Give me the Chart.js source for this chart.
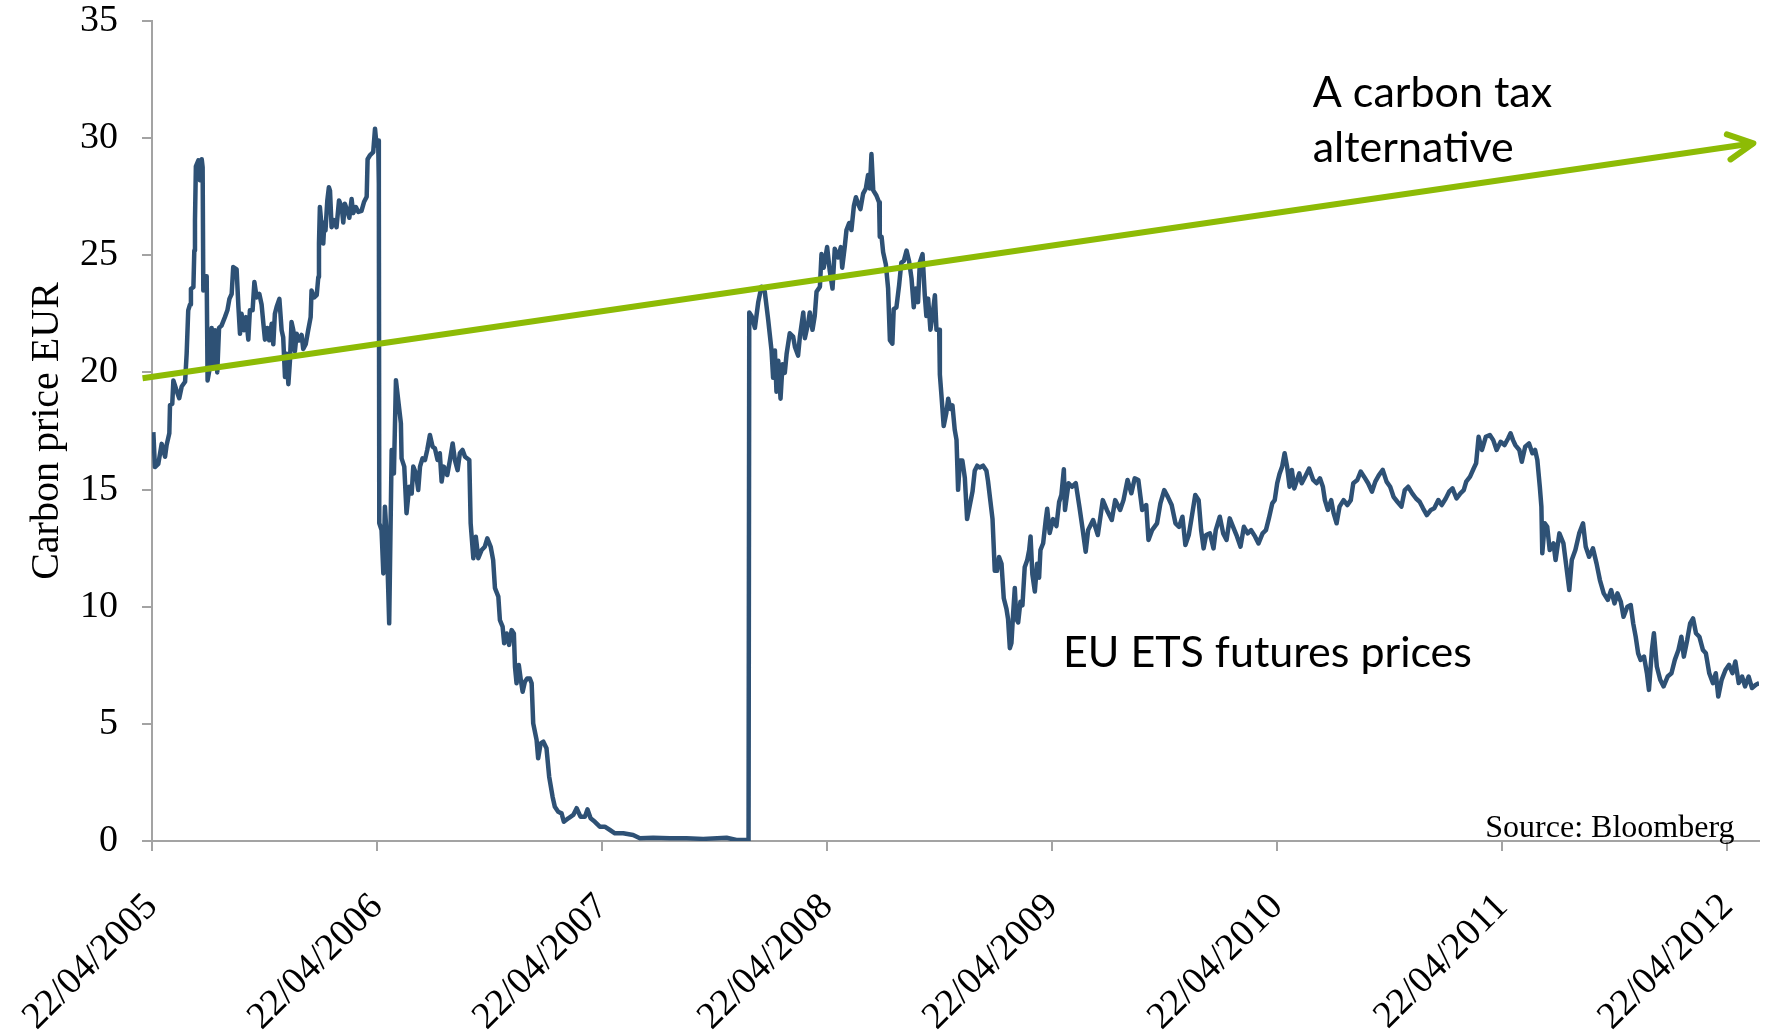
<html>
<head>
<script src="https://cdn.jsdelivr.net/npm/chart.js@4.4.0/dist/chart.umd.min.js"></script>
<style>
  body { margin: 0; background: #ffffff; }
  canvas { display: block; }
</style>
</head>
<body>
<canvas id="carbonChart" width="1769" height="1030"></canvas>

<script>
  // x values are decimal years (22/04 = .304 of the year), y values are EUR
  var tickYears = [2005.304, 2006.304, 2007.304, 2008.304, 2009.304, 2010.304, 2011.304, 2012.304];
  var tickLabels = ['22/04/2005', '22/04/2006', '22/04/2007', '22/04/2008', '22/04/2009', '22/04/2010', '22/04/2011', '22/04/2012'];
  var yTicks = [0, 5, 10, 15, 20, 25, 30, 35];

  // phase 1, up to the April 2006 crash
  var pricesPhase1a = [
    [2005.310, 17.45], [2005.317, 15.96], [2005.332, 16.1], [2005.347, 16.95], [2005.362, 16.4], [2005.369, 16.9],
    [2005.381, 17.4], [2005.384, 18.6], [2005.394, 18.66], [2005.399, 19.66], [2005.414, 19.2], [2005.425, 18.9],
    [2005.436, 19.4], [2005.451, 19.6], [2005.458, 20.8], [2005.465, 22.65], [2005.473, 22.9], [2005.477, 23.57],
    [2005.488, 23.64], [2005.492, 25.2], [2005.495, 26.5], [2005.499, 28.8], [2005.510, 29.05], [2005.517, 28.2],
    [2005.525, 29.1], [2005.529, 28.76], [2005.532, 23.5], [2005.539, 24.1], [2005.547, 24.1], [2005.551, 19.66],
    [2005.559, 20.1], [2005.569, 21.9], [2005.576, 20.2], [2005.584, 21.8], [2005.594, 20.0], [2005.602, 21.9],
    [2005.613, 22.0], [2005.628, 22.36], [2005.639, 22.65], [2005.648, 23.14], [2005.658, 23.35], [2005.665, 24.5],
    [2005.680, 24.4], [2005.688, 22.8], [2005.695, 21.65], [2005.702, 22.5], [2005.713, 21.8], [2005.722, 22.36],
    [2005.732, 21.4], [2005.739, 22.65], [2005.751, 22.65], [2005.759, 23.86], [2005.769, 23.2], [2005.781, 23.35],
    [2005.791, 22.9], [2005.799, 22.08], [2005.806, 21.4], [2005.816, 21.9], [2005.825, 21.37], [2005.836, 22.08],
    [2005.843, 21.2], [2005.850, 22.5], [2005.858, 22.8], [2005.870, 23.14], [2005.880, 21.8], [2005.887, 21.5],
    [2005.895, 19.8], [2005.902, 20.8], [2005.910, 19.5], [2005.917, 20.5], [2005.924, 22.15], [2005.932, 21.8],
    [2005.939, 20.9], [2005.947, 21.65], [2005.958, 21.37], [2005.969, 21.6], [2005.976, 21.0], [2005.987, 21.2],
    [2005.998, 21.8], [2006.009, 22.36], [2006.013, 23.5], [2006.024, 23.2], [2006.036, 23.3], [2006.043, 24.07],
    [2006.046, 25.5], [2006.050, 27.06], [2006.058, 26.2], [2006.065, 25.5], [2006.070, 26.4], [2006.075, 26.06],
    [2006.083, 27.34], [2006.090, 27.9], [2006.095, 27.76], [2006.102, 26.2], [2006.113, 26.5], [2006.124, 26.2],
    [2006.135, 27.34], [2006.147, 27.06], [2006.154, 26.4], [2006.161, 27.2], [2006.172, 26.9], [2006.181, 26.6],
    [2006.191, 27.4], [2006.198, 26.8], [2006.210, 27.06], [2006.221, 26.85], [2006.235, 26.9], [2006.246, 27.27],
    [2006.258, 27.5], [2006.262, 29.1], [2006.272, 29.26], [2006.287, 29.4], [2006.295, 30.4], [2006.302, 29.69],
    [2006.309, 29.9], [2006.312, 28.05]
  ];

  // phase 1 after the crash, sliding to zero
  var pricesPhase1b = [
    [2006.314, 13.56], [2006.324, 13.27], [2006.332, 11.42], [2006.339, 14.27], [2006.347, 12.99], [2006.358, 9.29],
    [2006.369, 16.69], [2006.379, 15.69], [2006.388, 19.67], [2006.398, 18.82], [2006.410, 17.83], [2006.413, 16.33],
    [2006.425, 15.98], [2006.435, 13.99], [2006.447, 15.12], [2006.458, 14.83], [2006.465, 15.98], [2006.477, 15.69],
    [2006.487, 14.98], [2006.495, 15.98], [2006.506, 16.33], [2006.517, 16.26], [2006.527, 16.69], [2006.539, 17.33],
    [2006.551, 16.83], [2006.561, 16.76], [2006.573, 16.26], [2006.583, 16.55], [2006.591, 15.34], [2006.601, 15.98],
    [2006.616, 15.62], [2006.628, 16.26], [2006.640, 16.97], [2006.650, 16.26], [2006.662, 15.83], [2006.672, 16.55],
    [2006.684, 16.69], [2006.695, 16.4], [2006.714, 16.26], [2006.720, 13.56], [2006.732, 12.07], [2006.743, 12.99],
    [2006.754, 12.07], [2006.769, 12.42], [2006.783, 12.56], [2006.794, 12.92], [2006.809, 12.56], [2006.820, 11.99],
    [2006.828, 10.79], [2006.843, 10.43], [2006.850, 9.43], [2006.862, 9.15], [2006.869, 8.44], [2006.880, 8.86],
    [2006.891, 8.37], [2006.902, 9.0], [2006.912, 8.86], [2006.917, 7.44], [2006.924, 6.73], [2006.934, 7.51],
    [2006.943, 6.87], [2006.951, 6.37], [2006.961, 6.8], [2006.971, 6.94], [2006.983, 6.94], [2006.991, 6.73],
    [2006.998, 5.02], [2007.013, 4.31], [2007.020, 3.53], [2007.031, 4.17], [2007.043, 4.24], [2007.057, 3.96],
    [2007.069, 2.74], [2007.084, 1.89], [2007.094, 1.46], [2007.109, 1.25], [2007.124, 1.18], [2007.134, 0.82],
    [2007.154, 0.97], [2007.176, 1.11], [2007.191, 1.4], [2007.208, 1.04], [2007.228, 1.04], [2007.239, 1.35],
    [2007.253, 0.97], [2007.272, 0.82], [2007.294, 0.61], [2007.316, 0.61], [2007.339, 0.47], [2007.361, 0.33],
    [2007.398, 0.33], [2007.442, 0.26], [2007.472, 0.12], [2007.531, 0.14], [2007.605, 0.12], [2007.679, 0.12],
    [2007.753, 0.09], [2007.857, 0.14], [2007.901, 0.04], [2007.955, 0.04]
  ];

  // phase 2 contract, 2008 to spring 2009
  var pricesPhase2a = [
    [2007.958, 22.56], [2007.968, 22.41], [2007.983, 21.9], [2007.998, 23.0], [2008.012, 23.66], [2008.027, 23.44],
    [2008.042, 22.26], [2008.057, 20.94], [2008.064, 19.77], [2008.072, 20.94], [2008.079, 19.18], [2008.087, 20.5],
    [2008.097, 18.88], [2008.106, 20.35], [2008.116, 19.98], [2008.124, 20.79], [2008.138, 21.67], [2008.153, 21.53],
    [2008.161, 21.09], [2008.175, 20.72], [2008.183, 21.53], [2008.198, 22.56], [2008.205, 21.46], [2008.220, 22.12],
    [2008.227, 22.56], [2008.239, 21.82], [2008.249, 22.41], [2008.257, 23.44], [2008.272, 23.66], [2008.279, 25.05],
    [2008.289, 24.47], [2008.304, 25.35], [2008.316, 24.32], [2008.328, 23.58], [2008.338, 25.28], [2008.353, 24.91],
    [2008.365, 25.35], [2008.371, 24.47], [2008.383, 25.42], [2008.390, 26.08], [2008.402, 26.38], [2008.412, 26.08],
    [2008.423, 27.11], [2008.432, 27.48], [2008.442, 27.19], [2008.452, 26.97], [2008.464, 27.63], [2008.476, 27.85],
    [2008.486, 28.43], [2008.494, 27.85], [2008.501, 29.32], [2008.509, 27.77], [2008.523, 27.55], [2008.535, 27.26],
    [2008.538, 25.79], [2008.546, 25.79], [2008.553, 25.13], [2008.565, 24.61], [2008.575, 23.58], [2008.583, 21.38],
    [2008.594, 21.23], [2008.600, 22.7], [2008.612, 22.78], [2008.624, 23.73], [2008.634, 24.69], [2008.645, 24.76],
    [2008.657, 25.2], [2008.668, 24.76], [2008.679, 24.02], [2008.689, 22.78], [2008.698, 23.58], [2008.708, 23.0],
    [2008.716, 24.69], [2008.728, 25.05], [2008.738, 23.29], [2008.745, 22.41], [2008.753, 23.15], [2008.763, 21.82],
    [2008.772, 22.41], [2008.783, 23.29], [2008.790, 21.82], [2008.802, 21.82], [2008.805, 19.91], [2008.812, 19.03],
    [2008.822, 17.71], [2008.834, 18.29], [2008.842, 18.88], [2008.852, 18.44], [2008.861, 18.59], [2008.871, 17.56],
    [2008.879, 17.12], [2008.886, 14.99], [2008.894, 16.24], [2008.905, 16.24], [2008.916, 15.5], [2008.926, 13.74],
    [2008.938, 14.33], [2008.950, 14.91], [2008.960, 15.8], [2008.971, 16.02], [2008.982, 15.94], [2008.997, 16.02],
    [2009.012, 15.8], [2009.019, 15.36], [2009.030, 14.47], [2009.039, 13.74], [2009.049, 11.53], [2009.059, 11.53],
    [2009.068, 12.12], [2009.079, 11.83], [2009.089, 10.36], [2009.101, 9.91], [2009.108, 9.48], [2009.116, 8.23],
    [2009.123, 8.45], [2009.131, 9.77], [2009.138, 10.8], [2009.145, 9.48], [2009.153, 9.33], [2009.163, 10.21],
    [2009.172, 10.06], [2009.182, 11.68], [2009.193, 11.98], [2009.202, 12.42], [2009.208, 13.0], [2009.216, 11.39],
    [2009.227, 10.65], [2009.237, 11.83], [2009.246, 11.24], [2009.252, 12.42], [2009.264, 12.71], [2009.276, 13.74],
    [2009.282, 14.18], [2009.293, 13.15], [2009.308, 13.74], [2009.323, 13.44], [2009.335, 14.47], [2009.345, 14.77],
    [2009.356, 15.87]
  ];

  // phase 2, spring 2009 to 2012
  var pricesPhase2b = [
    [2009.361, 14.13], [2009.377, 15.27], [2009.392, 15.12], [2009.409, 15.27], [2009.425, 14.27], [2009.438, 13.41],
    [2009.453, 12.35], [2009.464, 13.27], [2009.486, 13.7], [2009.507, 13.06], [2009.529, 14.55], [2009.547, 14.13],
    [2009.569, 13.7], [2009.584, 14.55], [2009.606, 14.13], [2009.621, 14.55], [2009.639, 15.41], [2009.656, 14.84],
    [2009.671, 15.48], [2009.687, 15.41], [2009.704, 14.13], [2009.722, 14.34], [2009.732, 12.85], [2009.748, 13.27],
    [2009.770, 13.56], [2009.785, 14.41], [2009.802, 14.98], [2009.818, 14.69], [2009.835, 14.34], [2009.852, 13.56],
    [2009.868, 13.41], [2009.883, 13.84], [2009.896, 12.63], [2009.911, 13.06], [2009.922, 13.7], [2009.940, 14.77],
    [2009.955, 14.55], [2009.966, 13.27], [2009.977, 12.49], [2009.988, 13.06], [2010.005, 13.13], [2010.021, 12.49],
    [2010.031, 13.27], [2010.049, 13.84], [2010.064, 13.13], [2010.079, 12.85], [2010.093, 13.77], [2010.108, 13.41],
    [2010.123, 13.06], [2010.141, 12.56], [2010.156, 13.41], [2010.173, 13.13], [2010.188, 13.27], [2010.206, 12.99],
    [2010.221, 12.7], [2010.239, 13.13], [2010.254, 13.27], [2010.267, 13.77], [2010.282, 14.41], [2010.293, 14.55],
    [2010.304, 15.27], [2010.315, 15.69], [2010.326, 15.98], [2010.337, 16.55], [2010.348, 15.98], [2010.359, 15.12],
    [2010.369, 15.84], [2010.380, 15.05], [2010.392, 15.41], [2010.402, 15.69], [2010.413, 15.27], [2010.428, 15.55],
    [2010.446, 15.9], [2010.464, 15.41], [2010.479, 15.27], [2010.494, 15.48], [2010.507, 15.12], [2010.516, 14.55],
    [2010.529, 14.13], [2010.544, 14.55], [2010.555, 13.98], [2010.568, 13.56], [2010.581, 14.27], [2010.599, 14.55],
    [2010.616, 14.34], [2010.631, 14.55], [2010.642, 15.27], [2010.660, 15.41], [2010.675, 15.77], [2010.690, 15.55],
    [2010.708, 15.27], [2010.725, 14.91], [2010.740, 15.34], [2010.756, 15.62], [2010.773, 15.84], [2010.790, 15.34],
    [2010.806, 15.12], [2010.821, 14.69], [2010.838, 14.48], [2010.856, 14.27], [2010.871, 14.98], [2010.886, 15.12],
    [2010.904, 14.84], [2010.921, 14.62], [2010.937, 14.48], [2010.952, 14.2], [2010.969, 13.91], [2010.987, 14.13],
    [2011.002, 14.2], [2011.020, 14.55], [2011.035, 14.34], [2011.053, 14.62], [2011.068, 14.91], [2011.083, 15.05],
    [2011.101, 14.62], [2011.118, 14.84], [2011.133, 14.98], [2011.144, 15.34], [2011.161, 15.55], [2011.177, 15.9],
    [2011.188, 16.12], [2011.199, 17.25], [2011.214, 16.69], [2011.231, 17.25], [2011.249, 17.33], [2011.264, 17.11],
    [2011.279, 16.69], [2011.297, 17.04], [2011.314, 16.9], [2011.330, 17.18], [2011.341, 17.4], [2011.352, 17.11],
    [2011.362, 16.9], [2011.380, 16.69], [2011.391, 16.19], [2011.406, 16.83], [2011.423, 16.97], [2011.438, 16.55],
    [2011.450, 16.69], [2011.460, 16.26], [2011.471, 15.12], [2011.478, 14.27], [2011.482, 12.28], [2011.493, 13.56],
    [2011.504, 13.41], [2011.515, 12.42], [2011.532, 12.7], [2011.541, 11.99], [2011.558, 13.13], [2011.576, 12.7],
    [2011.591, 11.56], [2011.602, 10.71], [2011.613, 11.99], [2011.629, 12.42], [2011.646, 13.13], [2011.663, 13.56],
    [2011.675, 12.56], [2011.690, 12.13], [2011.707, 12.49], [2011.723, 11.85], [2011.738, 11.14], [2011.755, 10.57],
    [2011.773, 10.29], [2011.788, 10.71], [2011.803, 10.14], [2011.816, 10.57], [2011.831, 10.21], [2011.843, 9.57],
    [2011.860, 10.0], [2011.875, 10.07], [2011.886, 9.29], [2011.897, 8.72], [2011.908, 8.01], [2011.919, 7.73],
    [2011.934, 7.87], [2011.947, 7.16], [2011.956, 6.45], [2011.969, 8.15], [2011.978, 8.87], [2011.991, 7.45],
    [2012.006, 6.88], [2012.021, 6.6], [2012.039, 7.02], [2012.056, 7.16], [2012.071, 7.73], [2012.087, 8.15],
    [2012.100, 8.72], [2012.111, 7.87], [2012.126, 8.58], [2012.139, 9.29], [2012.152, 9.5], [2012.165, 8.87],
    [2012.180, 8.72], [2012.196, 8.15], [2012.209, 8.01], [2012.224, 7.16], [2012.240, 6.74], [2012.253, 7.16],
    [2012.264, 6.17], [2012.279, 6.88], [2012.296, 7.3], [2012.312, 7.52], [2012.327, 7.16], [2012.340, 7.66],
    [2012.355, 6.74], [2012.370, 7.02], [2012.383, 6.6], [2012.399, 7.02], [2012.414, 6.53], [2012.431, 6.67],
    [2012.446, 6.74]
  ];

  // the carbon tax arrow: start and end
  var taxYears = [2005.262, 2012.42];
  var taxPrices = [19.75, 29.78];

  var taxNote = ['A carbon tax', 'alternative'];
  var etsNote = 'EU ETS futures prices';
  var sourceNote = 'Source: Bloomberg';

  var blue = '#2E5175';
  var green = '#8DBB05';
  var axisGrey = '#A3A3A3';

  function toPoints(pairs) {
    return pairs.map(function(p) { return { x: p[0], y: p[1] }; });
  }

  var etsPoints = toPoints([].concat(pricesPhase1a, pricesPhase1b, pricesPhase2a, pricesPhase2b));
  var taxPoints = taxYears.map(function(v, i) { return { x: v, y: taxPrices[i] }; });

  // arrow head + the text notes on top of the plot
  var notesPlugin = {
    id: 'notes',
    afterDatasetsDraw: function(chart) {
      var ctx = chart.ctx;
      var xs = chart.scales.x;
      var ys = chart.scales.y;

      var pts = chart.getDatasetMeta(1).data;
      var tip = pts[pts.length - 1];
      var prev = pts[pts.length - 2];
      var ang = Math.atan2(prev.y - tip.y, prev.x - tip.x);
      var barb = 28, spread = 0.47;
      ctx.save();
      ctx.strokeStyle = green;
      ctx.lineWidth = 6;
      ctx.lineCap = 'round';
      ctx.lineJoin = 'round';
      ctx.beginPath();
      ctx.moveTo(tip.x + barb * Math.cos(ang + spread), tip.y + barb * Math.sin(ang + spread));
      ctx.lineTo(tip.x, tip.y);
      ctx.lineTo(tip.x + barb * Math.cos(ang - spread), tip.y + barb * Math.sin(ang - spread));
      ctx.stroke();

      ctx.fillStyle = '#000000';
      ctx.textBaseline = 'alphabetic';
      ctx.textAlign = 'left';
      ctx.font = '43px Lato';
      var tx = xs.getPixelForValue(2010.462);
      var ty = ys.getPixelForValue(31.34);
      ctx.fillText(taxNote[0], tx, ty);
      ctx.fillText(taxNote[1], tx, ty + 55);
      ctx.fillText(etsNote, xs.getPixelForValue(2009.352), ys.getPixelForValue(7.43));

      ctx.font = '32px "Liberation Serif"';
      ctx.textAlign = 'right';
      ctx.fillText(sourceNote, xs.getPixelForValue(2012.336), ys.getPixelForValue(0.17));
      ctx.restore();
    }
  };

  var ctx = document.getElementById('carbonChart');

  var carbonChart = new Chart(ctx, {
    type: 'line',
    data: {
      datasets: [
        {
          label: etsNote,
          data: etsPoints,
          borderColor: blue,
          borderWidth: 4.5,
          borderJoinStyle: 'round',
          pointRadius: 0,
          tension: 0,
          fill: false,
          order: 1
        },
        {
          label: 'Carbon tax',
          data: taxPoints,
          borderColor: green,
          borderWidth: 6,
          borderCapStyle: 'butt',
          pointRadius: 0,
          fill: false,
          clip: false,
          order: 0
        }
      ]
    },
    options: {
      responsive: false,
      animation: false,
      devicePixelRatio: 1,
      layout: { padding: { top: 21, right: 10, bottom: 0, left: 0 } },
      plugins: {
        legend: { display: false },
        tooltip: { enabled: false }
      },
      scales: {
        x: {
          type: 'linear',
          min: 2005.304,
          max: 2012.445,
          afterBuildTicks: function(scale) {
            scale.ticks = tickYears.map(function(v) { return { value: v }; });
          },
          afterFit: function(scale) {
            scale.height = 189;
            scale.paddingLeft = 0;
            scale.paddingRight = 0;
          },
          ticks: {
            autoSkip: false,
            minRotation: 45,
            maxRotation: 45,
            padding: 34,
            color: '#000000',
            font: { family: 'Liberation Serif', size: 38 },
            callback: function(value, index) { return tickLabels[index]; }
          },
          grid: { drawOnChartArea: false, drawTicks: true, tickLength: 10, color: axisGrey, lineWidth: 2 },
          border: { color: axisGrey, width: 2 }
        },
        y: {
          min: 0,
          max: 35,
          afterBuildTicks: function(scale) {
            scale.ticks = yTicks.map(function(v) { return { value: v }; });
          },
          afterFit: function(scale) {
            scale.width = 152;
            scale.paddingTop = 0;
            scale.paddingBottom = 0;
          },
          ticks: {
            padding: 24,
            color: '#000000',
            font: { family: 'Liberation Serif', size: 38, lineHeight: 1 }
          },
          grid: { drawOnChartArea: false, drawTicks: true, tickLength: 10, color: axisGrey, lineWidth: 2 },
          border: { color: axisGrey, width: 2 },
          title: {
            display: true,
            text: 'Carbon price EUR',
            color: '#000000',
            font: { family: 'Liberation Serif', size: 40 },
            padding: { top: 23, bottom: 0 }
          }
        }
      }
    },
    plugins: [notesPlugin]
  });
</script>
</body>
</html>
